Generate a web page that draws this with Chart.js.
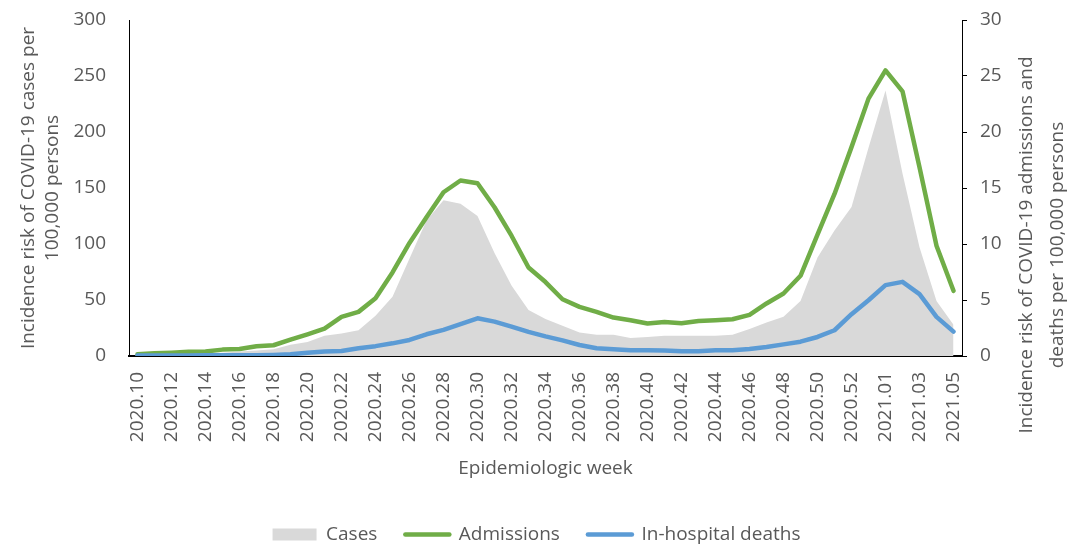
<!DOCTYPE html>
<html lang="en">
<head>
    <meta charset="UTF-8">
    <title>COVID-19 incidence by epidemiologic week</title>
    <script src="https://cdn.jsdelivr.net/npm/chart.js"></script>
    <style>
        body { margin: 0; background: #fff; }
        #wrap { width: 1073px; height: 544px; position: relative; }
    </style>
</head>
<body>
    <div id="wrap">
        <canvas id="incidenceChart"></canvas>
    </div>

    <script>
        // week labels (2020 has 53 epi weeks)
        const weeks = [
            "2020.10", "2020.11", "2020.12", "2020.13", "2020.14", "2020.15", "2020.16", "2020.17",
            "2020.18", "2020.19", "2020.20", "2020.21", "2020.22", "2020.23", "2020.24", "2020.25",
            "2020.26", "2020.27", "2020.28", "2020.29", "2020.30", "2020.31", "2020.32", "2020.33",
            "2020.34", "2020.35", "2020.36", "2020.37", "2020.38", "2020.39", "2020.40", "2020.41",
            "2020.42", "2020.43", "2020.44", "2020.45", "2020.46", "2020.47", "2020.48", "2020.49",
            "2020.50", "2020.51", "2020.52", "2020.53", "2021.01", "2021.02", "2021.03", "2021.04",
            "2021.05"
        ];

        // cases per 100,000 (left axis)
        const cases = [
            0.5, 1, 1.5, 2, 2.5, 3, 4, 5, 6, 10, 12.5, 18, 20, 23, 36, 53,
            87, 121, 139, 136, 125, 92, 63, 41, 33, 27, 21, 19, 19, 16, 17, 18,
            18, 18, 18, 19, 24, 30, 35, 49, 88, 112, 133, 186, 237, 163, 97, 49,
            28
        ];

        // admissions per 100,000 (right axis)
        const admissions = [
            0.15, 0.24, 0.3, 0.39, 0.4, 0.57, 0.63, 0.87, 0.96, 1.46, 1.94, 2.45, 3.49, 3.94, 5.16, 7.46,
            10.09, 12.38, 14.62, 15.67, 15.43, 13.28, 10.74, 7.9, 6.6, 5.07, 4.39, 3.94, 3.43, 3.19, 2.9, 3.04,
            2.92, 3.13, 3.19, 3.28, 3.67, 4.69, 5.58, 7.16, 10.83, 14.47, 18.65, 22.98, 25.5, 23.63, 16.86, 9.85,
            5.82
        ];

        // in-hospital deaths per 100,000 (right axis)
        const deaths = [
            0.05, 0.05, 0.05, 0.05, 0.06, 0.06, 0.06, 0.06, 0.1, 0.15, 0.3, 0.4, 0.45, 0.69, 0.88, 1.13,
            1.43, 1.94, 2.33, 2.84, 3.37, 3.07, 2.63, 2.15, 1.75, 1.4, 0.98, 0.69, 0.6, 0.51, 0.51, 0.48,
            0.42, 0.42, 0.51, 0.51, 0.63, 0.81, 1.04, 1.28, 1.7, 2.3, 3.73, 4.98, 6.33, 6.62, 5.52, 3.49,
            2.18
        ];

        const leftTitle = ["Incidence risk of COVID-19 cases per", "100,000 persons"];
        const rightTitle = ["Incidence risk of COVID-19 admissions and", "deaths per 100,000 persons"];

        const FONT = "'Open Sans', sans-serif";
        const TEXT = "#595959";

        // right axis title reads bottom-to-top (chart.js would flip it), so draw it by hand
        const rightTitlePlugin = {
            id: "rightTitle",
            afterDraw(chart) {
                const ctx = chart.ctx;
                ctx.save();
                ctx.translate(1027, 245);
                ctx.rotate(-Math.PI / 2);
                ctx.font = "19px " + FONT;
                ctx.fillStyle = TEXT;
                ctx.textAlign = "center";
                ctx.textBaseline = "middle";
                rightTitle.forEach((t, k) => ctx.fillText(t, 0, k * 31));
                ctx.restore();
            }
        };

        // fixed axis widths, and no extra room for half labels at the top
        function fixWidth(w) {
            return s => { s.width = w; s.paddingTop = 0; s.paddingBottom = 0; };
        }

        new Chart(document.getElementById("incidenceChart"), {
            type: "line",
            data: {
                labels: weeks,
                datasets: [
                    {
                        label: "Cases", data: cases, yAxisID: "y", order: 3,
                        fill: "origin", backgroundColor: "#d9d9d9", borderWidth: 0, pointRadius: 0
                    },
                    {
                        label: "Admissions", data: admissions, yAxisID: "y1", order: 2,
                        borderColor: "#70ad47", borderWidth: 4.5, pointRadius: 0,
                        borderCapStyle: "round", borderJoinStyle: "round", fill: false
                    },
                    {
                        label: "In-hospital deaths", data: deaths, yAxisID: "y1", order: 1,
                        borderColor: "#5b9bd5", borderWidth: 4.5, pointRadius: 0,
                        borderCapStyle: "round", borderJoinStyle: "round", fill: false
                    }
                ]
            },
            options: {
                responsive: true,
                maintainAspectRatio: false,
                animation: false,
                layout: { padding: { top: 20, left: 0, right: 0, bottom: -10 } },
                plugins: {
                    tooltip: { enabled: false },
                    legend: {
                        position: "bottom",
                        labels: {
                            usePointStyle: true,
                            pointStyleWidth: 44,
                            boxHeight: 12,
                            padding: 28,
                            color: TEXT,
                            font: { family: FONT, size: 19 },
                            generateLabels: chart => chart.data.datasets.map((ds, i) => ({
                                text: ds.label,
                                datasetIndex: i,
                                fillStyle: ds.borderColor || ds.backgroundColor,
                                strokeStyle: ds.borderColor || ds.backgroundColor,
                                lineWidth: ds.label === "Cases" ? 0 : 4.5,
                                lineCap: "round",
                                pointStyle: ds.label === "Cases" ? "rect" : "line",
                                fontColor: TEXT,
                                hidden: false
                            }))
                        }
                    }
                },
                scales: {
                    x: {
                        offset: true,
                        grid: { display: false },
                        border: { color: "#000", width: 2 },
                        ticks: {
                            autoSkip: false, minRotation: 90, maxRotation: 90, padding: 8,
                            color: TEXT, font: { family: FONT, size: 19 },
                            callback: (v, i) => i % 2 === 0 ? weeks[i] : ""
                        },
                        title: {
                            display: true, text: "Epidemiologic week", color: TEXT,
                            font: { family: FONT, size: 19 }, padding: { top: 6, bottom: 17 }
                        },
                        afterFit: s => { s.height = 141; }
                    },
                    y: {
                        position: "left",
                        min: 0, max: 300,
                        grid: { display: false },
                        border: { color: "#000", width: 1 },
                        ticks: { stepSize: 50, padding: 15, color: TEXT, font: { family: FONT, size: 19 } },
                        title: {
                            display: true, text: leftTitle, color: TEXT,
                            font: { family: FONT, size: 19, lineHeight: 1.25 }, padding: { top: 17, bottom: 0 }
                        },
                        afterFit: fixWidth(129)
                    },
                    y1: {
                        position: "right",
                        min: 0, max: 30,
                        grid: { drawOnChartArea: false, drawTicks: true, tickLength: 5, color: "#000" },
                        border: { color: "#000", width: 1 },
                        ticks: { stepSize: 5, padding: 13, color: TEXT, font: { family: FONT, size: 19 } },
                        afterFit: fixWidth(111)
                    }
                }
            },
            plugins: [rightTitlePlugin]
        });
    </script>
</body>
</html>
